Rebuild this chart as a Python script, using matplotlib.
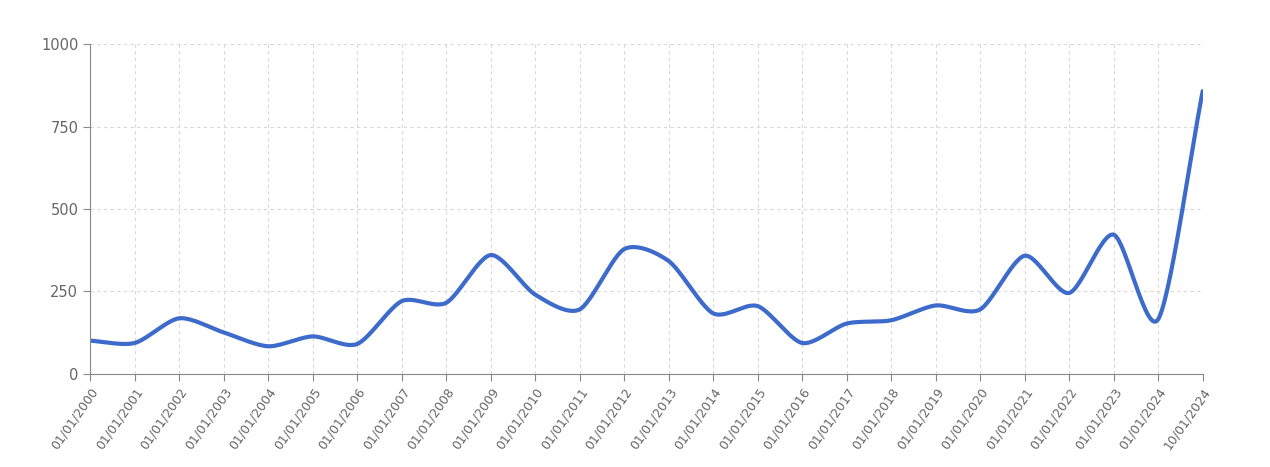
import numpy as np
import matplotlib
matplotlib.use('Agg')
import matplotlib.pyplot as plt

# data
labels = ['01/01/%d' % y for y in range(2000, 2025)] + ['10/01/2024']
values = [100, 93, 168, 125, 83, 113, 90, 220, 215, 360, 240, 195, 378, 342,
          183, 205, 93, 152, 162, 207, 195, 358, 245, 422, 165, 858]


def catmull_rom(x, y, n=30, k=0.4):
    # smooth curve through the points, like the original chart's spline line
    x = np.asarray(x, float)
    y = np.asarray(y, float)
    px = np.concatenate([[2 * x[0] - x[1]], x, [2 * x[-1] - x[-2]]])
    py = np.concatenate([[2 * y[0] - y[1]], y, [2 * y[-1] - y[-2]]])
    xs, ys = [], []
    t = np.linspace(0, 1, n, endpoint=False)
    h00 = 2 * t ** 3 - 3 * t ** 2 + 1
    h10 = t ** 3 - 2 * t ** 2 + t
    h01 = -2 * t ** 3 + 3 * t ** 2
    h11 = t ** 3 - t ** 2
    for i in range(1, len(px) - 2):
        for arr, out in ((px, xs), (py, ys)):
            p0, p1, p2, p3 = arr[i - 1:i + 3]
            m1 = k * (p2 - p0)
            m2 = k * (p3 - p1)
            out.extend(h00 * p1 + h10 * m1 + h01 * p2 + h11 * m2)
    xs.append(x[-1])
    ys.append(y[-1])
    return np.array(xs), np.array(ys)


fig = plt.figure(figsize=(12.7, 4.67), dpi=100)
ax = fig.add_axes([0.071, 0.2, 0.876, 0.705])

pos = np.arange(len(labels))
sx, sy = catmull_rom(pos, values)
ax.plot(sx, sy, color='#3d6bcb', linewidth=3, solid_capstyle='round')

ax.set_xlim(0, len(labels) - 1)
ax.set_ylim(0, 1000)
ax.set_yticks([0, 250, 500, 750, 1000])
ax.set_xticks(pos)
ax.set_xticklabels(labels, rotation=55, ha='right', rotation_mode='anchor',
                   fontsize=9, color='#666666')
ax.tick_params(axis='y', labelsize=10.5, labelcolor='#666666', length=5, color='#888888')
ax.tick_params(axis='x', length=5, color='#888888')

ax.grid(True, color='#d8d8d8', linestyle=(0, (3, 3)), linewidth=0.8)
for s in ['top', 'right']:
    ax.spines[s].set_visible(False)
for s in ['left', 'bottom']:
    ax.spines[s].set_color('#888888')

fig.savefig('out.png', dpi=100)
